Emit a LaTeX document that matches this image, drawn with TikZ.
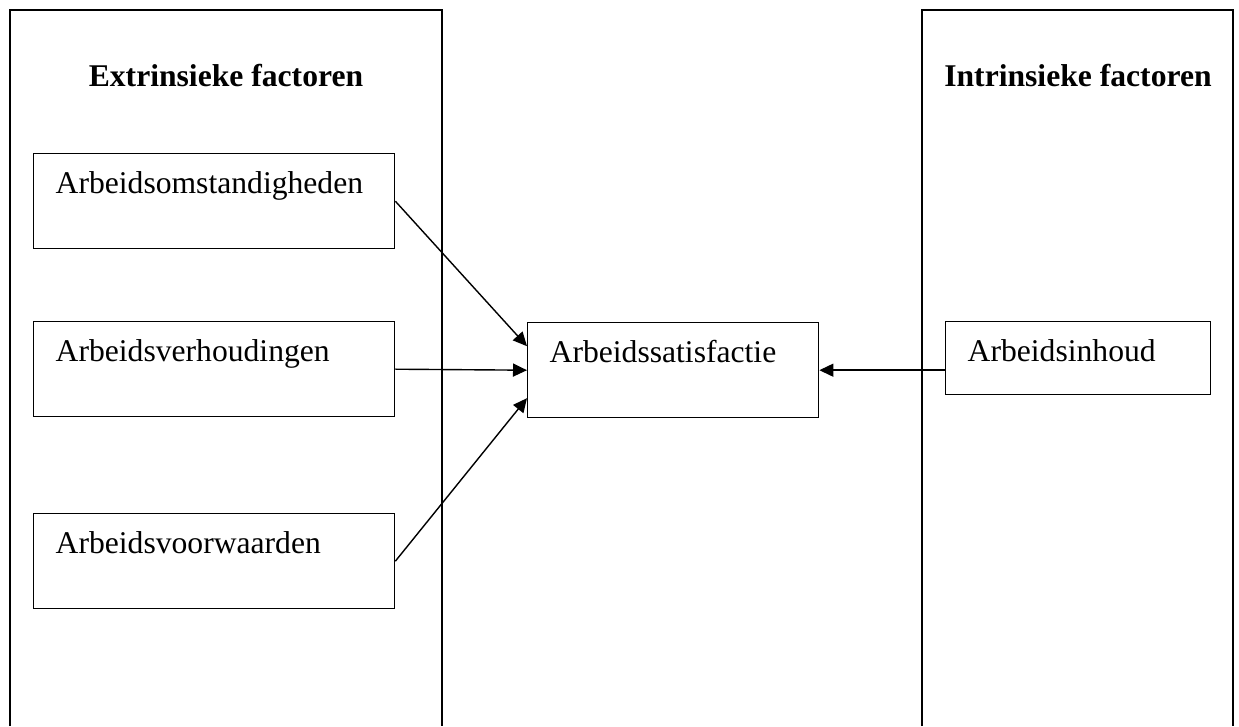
\documentclass[tikz,border=0pt]{standalone}
\usepackage{fontspec}
\setmainfont{Liberation Serif}
\usepackage{xcolor}
\usepackage{tikz}
\usetikzlibrary{arrows.meta}
\usetikzlibrary{shapes,positioning}

\tikzset{
    factor/.style={
        draw,
        line width=0.8pt,
        anchor=north west,
        align=left,
        inner xsep=0.44cm,
        inner ysep=0pt,
        text height=0.8cm,
        font=\fontsize{18}{22}\selectfont
    },
    titel/.style={
        anchor=base,
        font=\fontsize{18}{22}\selectfont\bfseries
    },
    pijl/.style={
        -{Triangle[length=0.28cm,width=0.26cm]},
        line width=0.8pt
    }
}

\begin{document}
\begin{tikzpicture}[x=0.02cm, y=-0.02cm]
                \useasboundingbox (0,0) rectangle (1239,726);

                % de twee kolommen
                \draw[
                    line width=0.8pt
                    ] (10,726) -- (10,10) -- (442,10) -- (442,726);

                \draw[
                    line width=0.8pt
                    ] (922,726) -- (922,10) -- (1233,10) -- (1233,726);

                \node[titel] (extr) at (226,87) {Extrinsieke factoren};
                \node[titel] (intr) at (1078,87) {Intrinsieke factoren};

                % factoren
                \node[factor, text width=6.34cm, text depth=1.1cm] (omst) at (33,153) {Arbeidsomstandigheden};
                \node[factor, text width=6.34cm, text depth=1.1cm] (verh) at (33,321) {Arbeidsverhoudingen};
                \node[factor, text width=6.34cm, text depth=1.1cm] (voorw) at (33,513) {Arbeidsvoorwaarden};

                \node[factor, text width=4.94cm, text depth=1.1cm] (sat) at (527,322) {Arbeidssatisfactie};

                \node[factor, text width=4.42cm, text depth=0.66cm] (inh) at (945,321) {Arbeidsinhoud};

                % pijlen
                \draw[pijl] (omst.east) -- ([yshift=0.48cm]sat.west);
                \draw[pijl] (verh.east) -- (sat.west);
                \draw[pijl] (voorw.east) -- ([yshift=-0.56cm]sat.west);
                \draw[pijl] ([yshift=-0.24cm]inh.west) -- (sat.east);

            \end{tikzpicture}
\end{document}
